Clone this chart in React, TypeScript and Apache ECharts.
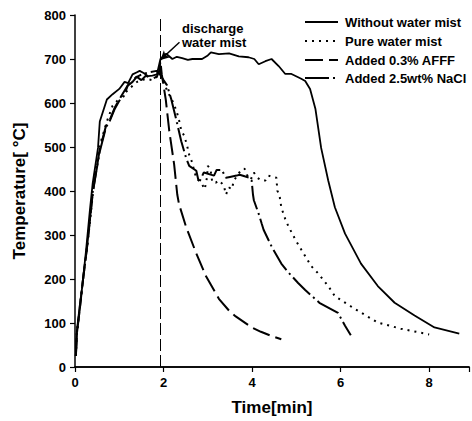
import React, { useEffect, useRef } from "react";
import * as echarts from "echarts";

const xTicks = [0, 2, 4, 6, 8];
const yTicks = [0, 100, 200, 300, 400, 500, 600, 700, 800];
const seriesNames = ["Without water mist", "Pure water mist", "Added 0.3% AFFF", "Added 2.5wt% NaCl"];
const dischargeTime = 1.93;
const annotationText = "discharge\nwater mist";

const withoutMist: number[][] = [
  [0.02, 25], [0.04, 80], [0.11, 142], [0.16, 180], [0.25, 265], [0.34, 360], [0.4, 418], [0.52, 498],
  [0.56, 558], [0.72, 608], [0.85, 620], [1.0, 632], [1.12, 648], [1.2, 645], [1.3, 665], [1.4, 670],
  [1.46, 673], [1.55, 668], [1.65, 661], [1.75, 662], [1.85, 665], [1.93, 700], [2.06, 712], [2.2, 700],
  [2.3, 705], [2.42, 702], [2.55, 698], [2.65, 700], [2.87, 700], [3.0, 708], [3.07, 715], [3.25, 711],
  [3.48, 713], [3.7, 706], [3.92, 704], [4.05, 700], [4.15, 688], [4.3, 695], [4.44, 700], [4.6, 684],
  [4.75, 666], [4.89, 666], [5.11, 655], [5.2, 650], [5.31, 632], [5.43, 587], [5.56, 498], [5.72, 424],
  [5.87, 363], [6.1, 303], [6.46, 235], [6.84, 184], [7.22, 146], [7.67, 117], [8.12, 90], [8.68, 76],
];

const pureMist: number[][] = [
  [0.02, 25], [0.04, 76], [0.11, 136], [0.18, 198], [0.27, 268], [0.34, 332], [0.45, 440], [0.56, 504],
  [0.72, 558], [0.85, 594], [1.07, 617], [1.2, 630], [1.4, 648], [1.6, 655], [1.75, 652], [1.84, 659],
  [1.93, 666], [2.0, 650], [2.08, 628], [2.2, 605], [2.29, 583], [2.35, 561], [2.4, 538], [2.47, 525],
  [2.53, 504], [2.58, 482], [2.65, 464], [2.69, 446], [2.74, 430], [2.87, 415], [2.93, 404], [2.98, 430],
  [3.0, 457], [3.06, 450], [3.1, 420], [3.18, 419], [3.25, 424], [3.36, 413], [3.41, 392], [3.48, 408],
  [3.54, 404], [3.59, 424], [3.74, 446], [3.83, 451], [3.88, 437], [3.97, 426], [4.04, 442], [4.12, 430],
  [4.22, 424], [4.3, 424], [4.37, 435], [4.46, 432], [4.55, 430], [4.57, 401], [4.62, 390], [4.66, 363],
  [4.71, 348], [4.75, 336], [4.82, 320], [4.98, 289], [5.11, 267], [5.34, 229], [5.49, 213], [5.72, 184],
  [5.87, 161], [6.32, 132], [6.84, 101], [7.36, 87], [8.0, 74],
];

const afff: number[][] = [
  [0.02, 25], [0.04, 74], [0.11, 134], [0.18, 198], [0.27, 270], [0.34, 336], [0.4, 395], [0.56, 495],
  [0.7, 548], [0.8, 565], [0.9, 590], [1.0, 608], [1.19, 640], [1.39, 660], [1.5, 652], [1.6, 662],
  [1.75, 655], [1.85, 660], [1.9, 672], [1.93, 695], [1.96, 665], [2.0, 640], [2.05, 608], [2.13, 536],
  [2.24, 460], [2.31, 392], [2.35, 370], [2.51, 318], [2.74, 258], [2.96, 206], [3.25, 155], [3.48, 128],
  [3.63, 115], [3.99, 90], [4.2, 80], [4.4, 72], [4.66, 63],
];

const nacl: number[][] = [
  [0.02, 25], [0.04, 74], [0.11, 134], [0.18, 198], [0.27, 272], [0.34, 338], [0.4, 398], [0.56, 490],
  [0.7, 545], [0.78, 558], [0.9, 587], [1.0, 605], [1.1, 615], [1.19, 639], [1.3, 648], [1.39, 659],
  [1.53, 666], [1.68, 670], [1.84, 673], [1.9, 668], [1.95, 660], [2.0, 652], [2.08, 640], [2.17, 610],
  [2.28, 565], [2.4, 513], [2.51, 475], [2.58, 457], [2.74, 446], [2.8, 419], [2.91, 442], [3.14, 435],
  [3.2, 448], [3.32, 448], [3.37, 437], [3.41, 430], [3.5, 432], [3.65, 435], [3.72, 437], [3.85, 433],
  [3.95, 430], [3.99, 424], [4.02, 392], [4.04, 379], [4.15, 348], [4.22, 325], [4.26, 312], [4.44, 274],
  [4.66, 235], [4.82, 215], [5.04, 191], [5.2, 175], [5.52, 146], [5.94, 123], [6.1, 94], [6.23, 72],
];

const arrowFrom = [2.36, 738];
const arrowTo = [1.93, 698];

const FONT = '"Liberation Sans", Arial, sans-serif';

const lineStyles = [
  { width: 1.8, dash: null as number[] | null },
  { width: 2, dash: [2, 5] },
  { width: 2, dash: [18, 6] },
  { width: 2, dash: [24, 4, 2, 4] },
];

export default function App() {
  const ref = useRef<HTMLDivElement>(null);
  useEffect(() => {
    if (!ref.current) return;
    const chart = echarts.init(ref.current, null, { renderer: "svg" });
    const black = "#000";
    const base = {
      type: "line" as const,
      showSymbol: false,
      symbol: "none",
      smooth: false,
      color: black,
    };
    const legendRows = [22, 41, 60, 78];
    const legendGraphics: any[] = [];
    seriesNames.forEach((name, i) => {
      const ls = lineStyles[i];
      legendGraphics.push({
        type: "line",
        shape: { x1: 305, y1: legendRows[i], x2: 338, y2: legendRows[i] },
        style: { stroke: black, lineWidth: ls.width, lineDash: ls.dash || undefined },
      });
      legendGraphics.push({
        type: "text",
        x: 345,
        y: legendRows[i],
        style: {
          text: name,
          font: `bold 13px ${FONT}`,
          fill: black,
          verticalAlign: "middle",
          align: "left",
        },
      });
    });
    const lt = (i: number) => ({
      color: black,
      width: lineStyles[i].width,
      type: lineStyles[i].dash ? lineStyles[i].dash : "solid",
    });
    chart.setOption({
      animation: false,
      backgroundColor: "#fff",
      grid: { left: 75, right: 0, top: 15, bottom: 49 },
      graphic: [
        {
          type: "text",
          left: 182,
          top: 21,
          style: { text: annotationText, font: `bold 13px ${FONT}`, fill: black, lineHeight: 14 },
        },
        ...legendGraphics,
      ],
      xAxis: [
        {
          type: "value",
          min: 0,
          max: 8.9,
          interval: 2,
          name: "Time[min]",
          nameLocation: "middle",
          nameGap: 32,
          nameTextStyle: { fontSize: 17, fontWeight: "bold", fontFamily: FONT, color: black },
          axisLine: { show: true, onZero: false, lineStyle: { color: black, width: 1.5 } },
          axisTick: { show: true, inside: false, length: 5, lineStyle: { color: black, width: 1.2 } },
          axisLabel: {
            fontSize: 13,
            fontWeight: "bold",
            fontFamily: FONT,
            color: black,
            margin: 9,
            formatter: (v: number) => (xTicks.includes(v) ? String(v) : ""),
          },
          splitLine: { show: false },
        },
        {
          type: "value",
          position: "top",
          min: 0,
          max: 8.9,
          axisLine: { show: true, lineStyle: { color: black, width: 1.5 } },
          axisTick: { show: false },
          axisLabel: { show: false },
          splitLine: { show: false },
        },
      ],
      yAxis: {
        type: "value",
        min: 0,
        max: 800,
        interval: 100,
        name: "Temperature[ °C]",
        nameLocation: "middle",
        nameGap: 47,
        nameTextStyle: { fontSize: 17, fontWeight: "bold", fontFamily: FONT, color: black },
        axisLine: { show: true, lineStyle: { color: black, width: 1.5 } },
        axisTick: { show: true, inside: false, length: 5, lineStyle: { color: black, width: 1.2 } },
        axisLabel: {
          fontSize: 13,
          fontWeight: "bold",
          fontFamily: FONT,
          color: black,
          margin: 9,
          formatter: (v: number) => (yTicks.includes(v) ? String(v) : ""),
        },
        splitLine: { show: false },
      },
      series: [
        {
          ...base,
          name: seriesNames[0],
          data: withoutMist,
          lineStyle: lt(0),
          markLine: {
            silent: true,
            symbol: ["none", "none"],
            label: { show: false },
            lineStyle: { color: black, width: 1, type: [12, 4] },
            data: [{ xAxis: dischargeTime }],
          },
          z: 4,
        },
        {
          ...base,
          name: seriesNames[1],
          data: pureMist,
          lineStyle: lt(1),
          markLine: {
            silent: true,
            symbol: ["none", "arrow"],
            symbolSize: [7, 9],
            label: { show: false },
            lineStyle: { color: black, width: 1.4, type: "solid" },
            data: [[{ coord: arrowFrom }, { coord: arrowTo }]],
          },
        },
        { ...base, name: seriesNames[2], data: afff, lineStyle: lt(2) },
        { ...base, name: seriesNames[3], data: nacl, lineStyle: lt(3) },
      ],
    });
    return () => chart.dispose();
  }, []);
  return <div ref={ref} style={{ position: "fixed", left: 0, top: 0, width: 472, height: 421 }} />;
}
